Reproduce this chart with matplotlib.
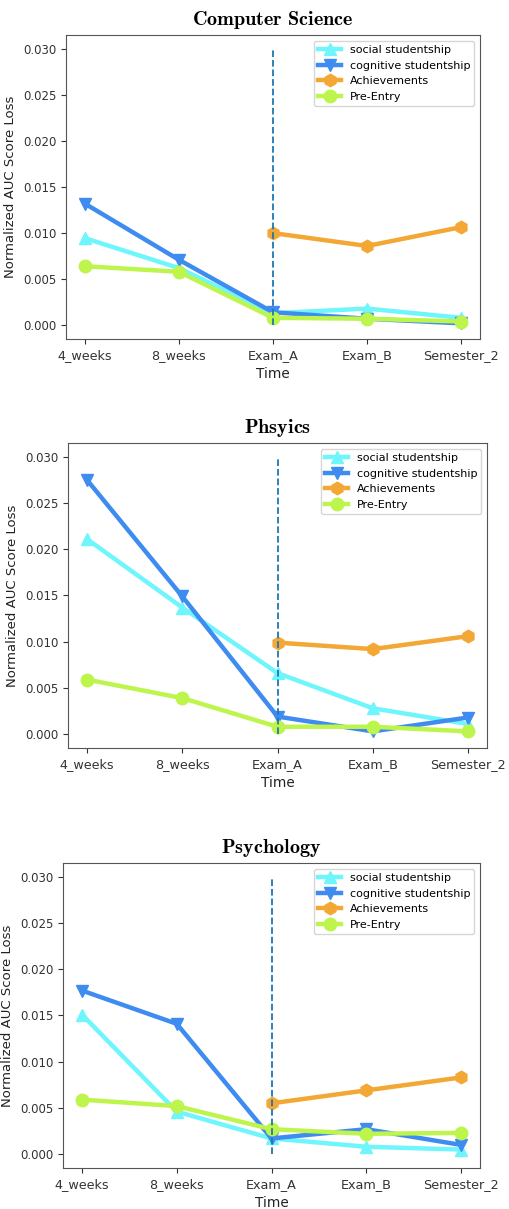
import matplotlib.pyplot as plt

plt.rcParams['mathtext.fontset'] = 'cm'

# x axis categories
times = ['4_weeks', '8_weeks', 'Exam_A', 'Exam_B', 'Semester_2']
later_times = ['Exam_A', 'Exam_B', 'Semester_2']

# Computer Science
cs_social = [0.00945, 0.0062, 0.0013, 0.0018, 0.0008]
cs_cognitive = [0.0132, 0.0071, 0.0014, 0.0007, 0.0002]
cs_achieve = [0.0100, 0.0086, 0.01065]
cs_pre = [0.0064, 0.0058, 0.0008, 0.0007, 0.0004]

# Physics
ph_social = [0.0211, 0.0137, 0.0066, 0.0028, 0.0011]
ph_cognitive = [0.0275, 0.0149, 0.0019, 0.0003, 0.0018]
ph_achieve = [0.0099, 0.0092, 0.0106]
ph_pre = [0.0059, 0.0039, 0.0008, 0.0008, 0.0003]

# Psychology
ps_social = [0.0151, 0.0046, 0.0017, 0.0008, 0.0005]
ps_cognitive = [0.0177, 0.0141, 0.0017, 0.0027, 0.0010]
ps_achieve = [0.0055, 0.0069, 0.0083]
ps_pre = [0.0059, 0.0052, 0.0027, 0.0022, 0.0023]

panels = [
    (r'$\mathbf{Computer\ Science}$', cs_social, cs_cognitive, cs_achieve, cs_pre,
     [0.1297, 0.7196, 0.8134, 0.2514]),
    (r'$\mathbf{Phsyics}$', ph_social, ph_cognitive, ph_achieve, ph_pre,
     [0.1336, 0.3813, 0.8232, 0.2523]),
    (r'$\mathbf{Psychology}$', ps_social, ps_cognitive, ps_achieve, ps_pre,
     [0.1238, 0.0339, 0.8193, 0.2523]),
]

fig = plt.figure(figsize=(5.09, 12.09), dpi=100)

for title, social, cognitive, achieve, pre, pos in panels:
    ax = fig.add_axes(pos)
    ax.plot(times, social, marker='^', color='#6ff5fc', lw=3.2, ms=9, label='social studentship')
    ax.plot(times, cognitive, marker='v', color='#3f8cf0', lw=3.2, ms=9, label='cognitive studentship')
    ax.plot(later_times, achieve, marker='h', color='#f3a735', lw=3.2, ms=9, label='Achievements')
    ax.plot(times, pre, marker='o', color='#bdf54c', lw=3.2, ms=9, label='Pre-Entry')
    ax.vlines('Exam_A', 0, 0.03, colors='#1f77b4', linestyles='dashed', lw=1.3)

    ax.set_yticks([0.0, 0.005, 0.01, 0.015, 0.02, 0.025, 0.03])
    ax.tick_params(labelsize=8.5, colors='#333333')
    ax.tick_params(axis='x', labelsize=9.2)
    for s in ax.spines.values():
        s.set_color('#555555')
    ax.set_ylabel('Normalized AUC Score Loss', fontsize=9.5, color='#222222')
    ax.set_xlabel('Time', fontsize=9.8, color='#222222', labelpad=4)
    ax.set_title(title, fontsize=14.5, pad=7)
    ax.legend(loc='upper right', fontsize=8, handlelength=2, borderaxespad=0.5)

fig.savefig('out.png', dpi=100)
